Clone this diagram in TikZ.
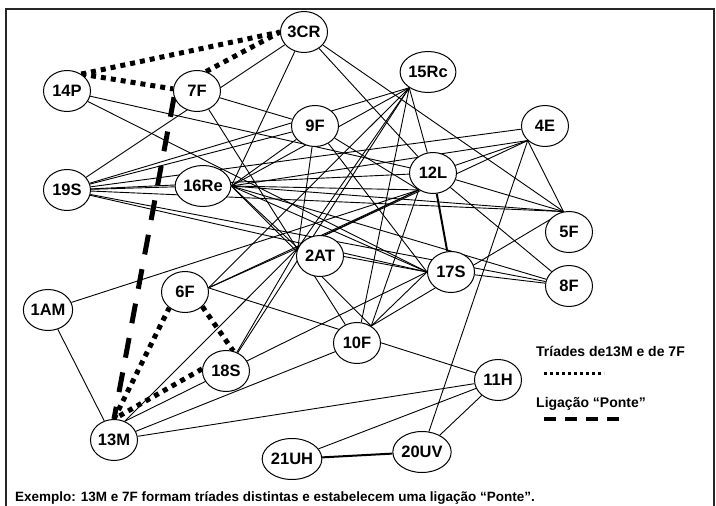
\documentclass[tikz,border=0pt]{standalone}
\usepackage{fontspec}
\setmainfont{Liberation Sans}
\usetikzlibrary{shapes.geometric,backgrounds}
\begin{document}
\begin{tikzpicture}[x=1pt,y=-1pt,
  actor/.style={draw, fill=white, line width=1pt, ellipse, minimum width=47pt, minimum height=41pt,
    inner sep=0pt, font=\fontsize{16.5}{16.5}\selectfont\bfseries},
  tie/.style={line width=0.9pt},
  strongtie/.style={line width=2pt},
  triad/.style={line width=5pt, dash pattern=on 5pt off 5pt},
  bridge/.style={line width=5pt, dash pattern=on 20pt off 15pt},
  note/.style={anchor=base west, inner sep=0pt, font=\fontsize{14}{14}\selectfont\bfseries},
]
\useasboundingbox (0,0) rectangle (716,506);
\draw[line width=1.5pt, black!85] (6,506) -- (6,9) -- (714,9) -- (714,506);

% actors
\node[actor] (n3CR)  at (304,32)  {3CR};
\node[actor] (n14P)  at (67,91)   {14P};
\node[actor] (n7F)   at (197,91)  {7F};
\node[actor] (n15Rc) at (428,72)  {15Rc};
\node[actor] (n9F)   at (315,126) {9F};
\node[actor] (n4E)   at (545,126) {4E};
\node[actor] (n19S)  at (67,190)  {19S};
\node[actor] (n16Re) at (203,186) {16Re};
\node[actor] (n12L)  at (433,173) {12L};
\node[actor] (n5F)   at (569,232) {5F};
\node[actor] (n2AT)  at (320,256) {2AT};
\node[actor] (n17S)  at (451,272) {17S};
\node[actor] (n8F)   at (569,286) {8F};
\node[actor] (n1AM)  at (48,310)  {1AM};
\node[actor] (n6F)   at (185,292) {6F};
\node[actor] (n10F)  at (357,343) {10F};
\node[actor] (n18S)  at (226,371) {18S};
\node[actor] (n11H)  at (498,380) {11H};
\node[actor] (n13M)  at (114,440) {13M};
\node[actor] (n21UH) at (292,459) {21UH};
\node[actor] (n20UV) at (422,452) {20UV};

% attachment points where several ties meet
\coordinate (h16Re) at (n16Re.east);
\coordinate (h12L)  at (n12L.-130);
\coordinate (h2AT)  at (n2AT.160);
\coordinate (h15Rc) at (n15Rc.-140);
\coordinate (h4E)   at (n4E.-140);
\coordinate (h5F)   at (n5F.105);
\coordinate (h6F)   at (n6F.10);
\coordinate (h17S)  at (n17S.west);
\coordinate (h10F)  at (n10F.50);
\coordinate (h13M)  at (n13M.60);
% end points of the triad and bridge lines
\coordinate (t14P)  at (n14P.50);
\coordinate (t3CR)  at (n3CR.west);
\coordinate (t7Fa)  at (n7F.175);
\coordinate (t7Fb)  at (n7F.65);
\coordinate (t7Fc)  at (n7F.-165);
\coordinate (t13M)  at (n13M.north);
\coordinate (t6Fa)  at (n6F.-135);
\coordinate (t6Fb)  at (n6F.-40);
\coordinate (t18Sa) at (n18S.70);
\coordinate (t18Sb) at (n18S.175);

\begin{scope}[on background layer]
% ordinary ties
\foreach \a/\b in {
  n3CR/h16Re, n3CR/n19S, n3CR/n12L, n3CR/h5F,
  n7F/n9F, n7F/n10F,
  n14P/n12L, n14P/h17S,
  n19S/n9F, n19S/h15Rc, n19S/n12L, n19S/n16Re, n19S/h5F, n19S/n8F, n19S/h17S,
  h16Re/h15Rc, h16Re/h4E, h16Re/h12L, h16Re/h5F, h16Re/h17S, h16Re/n8F, h16Re/h2AT, h16Re/h10F, h16Re/n9F,
  n9F/h2AT, n9F/h17S, n9F/h12L,
  h15Rc/n12L, h15Rc/h6F, h15Rc/h2AT, h15Rc/n10F, h15Rc/n18S,
  h4E/n12L, h4E/h2AT, h4E/h5F, h4E/n20UV, n4E/n19S,
  h12L/h2AT, h12L/h6F, n12L/h5F, h12L/n1AM, h12L/h10F, n12L/n8F,
  h2AT/h6F, h2AT/h13M, h2AT/n18S, h2AT/h17S,
  h6F/n11H,
  h17S/h10F, h17S/h13M, n17S/n8F,
  h5F/h10F, n10F/n13M,
  n11H/n13M, n11H/n20UV, n11H/n21UH,
  n1AM/n13M}
  \draw[tie] (\a) -- (\b);

% strong ties
\draw[strongtie] (n12L) -- (n17S);
\draw[strongtie] (n21UH) -- (n20UV);

% triads
\draw[triad] (t14P) -- (t3CR);
\draw[triad] (t14P) -- (t7Fa);
\draw[triad] (t7Fb) -- (t3CR);
\draw[triad] (t13M) -- (t6Fa);
\draw[triad] (t6Fb) -- (t18Sa);
\draw[triad] (t18Sb) -- (t13M);

% bridge
\draw[bridge] (t7Fc) -- (t13M);
\end{scope}

% legend
\node[note] (lgTriad) at (536,356) {Tríades de13M e de 7F};
\coordinate (lgDotA) at (544,373);
\coordinate (lgDotB) at (604,373);
\draw[line width=3pt, dash pattern=on 3pt off 3pt] (lgDotA) -- (lgDotB);
\node[note] (lgBridge) at (536,407) {Ligação “Ponte”};
\coordinate (lgDashA) at (544,419);
\coordinate (lgDashB) at (624,419);
\draw[line width=4pt, dash pattern=on 12pt off 9pt] (lgDashA) -- (lgDashB);

% caption
\node[note, font=\fontsize{13.5}{13.5}\selectfont\bfseries] (caption) at (15,501)
  {Exemplo: 13M e 7F formam tríades distintas e estabelecem uma ligação “Ponte”.};
\end{tikzpicture}
\end{document}
